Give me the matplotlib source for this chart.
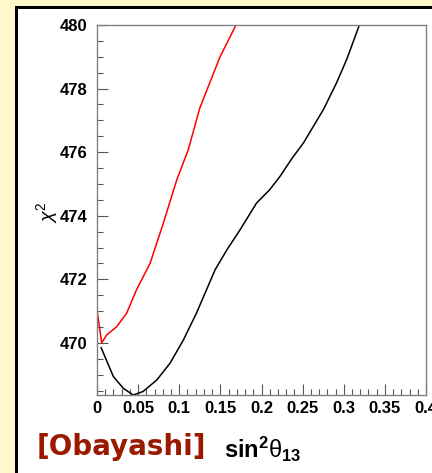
import matplotlib
matplotlib.use("Agg")
import matplotlib.pyplot as plt
from matplotlib.patches import Rectangle
from matplotlib.ticker import MultipleLocator

# Data
red_x = [0.0, 0.0057, 0.0118, 0.024, 0.036, 0.048, 0.0645, 0.0807, 0.097, 0.111, 0.125, 0.1496, 0.169]
red_y = [471.04, 470.0, 470.25, 470.51, 470.93, 471.67, 472.5, 473.77, 475.13, 476.08, 477.39, 479.0, 480.0]

black_x = [0.005, 0.0199, 0.032, 0.044, 0.056, 0.0726, 0.0888, 0.105, 0.121, 0.1436, 0.158,
           0.174, 0.194, 0.21, 0.2226, 0.237, 0.251, 0.2753, 0.2916, 0.3038, 0.319]
black_y = [469.85, 468.94, 468.57, 468.36, 468.47, 468.83, 469.36, 470.09, 470.94, 472.30, 472.93,
           473.56, 474.4, 474.82, 475.24, 475.8, 476.29, 477.34, 478.2, 478.93, 480.0]

xticks = [0, 0.05, 0.1, 0.15, 0.2, 0.25, 0.3, 0.35, 0.4]
xticklabels = ["0", "0.05", "0.1", "0.15", "0.2", "0.25", "0.3", "0.35", "0.4"]
yticks = [470, 472, 474, 476, 478, 480]

plt.rcParams['mathtext.fontset'] = 'custom'
plt.rcParams['mathtext.rm'] = 'Liberation Sans'
plt.rcParams['mathtext.bf'] = 'Liberation Sans:bold'
plt.rcParams['mathtext.it'] = 'Liberation Sans:italic'

W, H = 432, 473
fig = plt.figure(figsize=(W / 100, H / 100), dpi=100)
fig.patch.set_facecolor('#FFF8CC')

# white panel with thick black frame
lw_px = 3
rect = Rectangle((15.5 / W, -0.2), 1.2, 1.2 - 6.5 / H, transform=fig.transFigure,
                 facecolor='white', edgecolor='black', linewidth=lw_px * 0.72, zorder=0)
fig.add_artist(rect)

ax = fig.add_axes([97 / W, 1 - 395 / H, (426 - 97) / W, (395 - 25) / H])
ax.set_facecolor('white')
ax.plot(black_x, black_y, color='black', lw=1.1)
ax.plot(red_x, red_y, color='#FF0000', lw=1.1)

ax.set_xlim(0, 0.4)
ax.set_ylim(468.36, 480)

for s in ax.spines.values():
    s.set_color('#808080')
    s.set_linewidth(1.0)

ax.set_xticks(xticks)
ax.set_xticklabels(xticklabels)
ax.set_yticks(yticks)
ax.xaxis.set_minor_locator(MultipleLocator(0.01))
ax.yaxis.set_minor_locator(MultipleLocator(0.5))
ax.tick_params(axis='both', which='both', direction='in', color='#555555',
               top=False, right=False)
ax.tick_params(axis='x', which='major', length=8, width=0.8, pad=4)
ax.tick_params(axis='x', which='minor', length=4, width=0.8)
ax.tick_params(axis='y', which='major', length=8, width=0.8, pad=7)
ax.tick_params(axis='y', which='minor', length=4, width=0.8)
for lab in ax.get_xticklabels() + ax.get_yticklabels():
    lab.set_fontfamily('Liberation Sans')
    lab.set_fontweight('bold')
    lab.set_fontsize(12)

fig.text(47 / W, 1 - 212 / H, r"$\chi^{2}$", rotation=90, fontsize=14,
         ha='center', va='center')

fig.text(37 / W, 1 - 447 / H, "[Obayashi]", fontsize=20, fontweight='bold',
         family='DejaVu Sans', color='#9A1A00', ha='left', va='center')

fig.text(224 / W, 1 - 449 / H, r"$\mathbf{sin}^{\mathbf{2}}\mathrm{\theta}_{\mathbf{13}}$",
         fontsize=17, ha='left', va='center')

fig.savefig("out.png", dpi=100, facecolor=fig.get_facecolor())
